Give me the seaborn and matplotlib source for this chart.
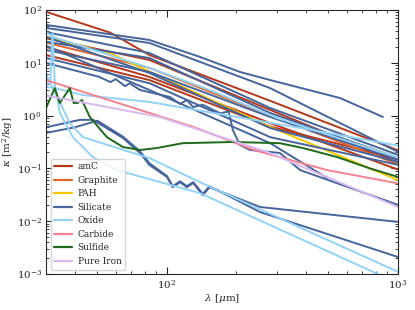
import matplotlib
matplotlib.use("Agg")
import matplotlib.pyplot as plt
import pandas as pd
import seaborn as sns

# Opacity curves: (wavelength [um], kappa [m^2/kg])
amc_lines = [
    ([30, 57, 84, 280, 1000], [92, 37, 14, 1.9, 0.22]),
    ([30, 84, 280, 1000], [29, 11.3, 1.28, 0.13]),
    ([30, 84, 280, 1000], [20, 5.4, 0.72, 0.095]),
    ([30, 84, 280, 1000], [14, 4.7, 0.62, 0.15]),
]
graphite_lines = [
    ([30, 84, 280, 1000], [24, 8.0, 1.0, 0.12]),
]
pah_lines = [
    ([30, 57, 84, 280, 1000], [31, 15, 6.8, 0.61, 0.06]),
]
silicate_lines = [
    ([30, 84, 139, 207, 280, 561, 861], [52, 27, 12.9, 6.7, 4.7, 2.15, 0.94]),
    ([30, 84, 280, 1000], [45.6, 23.7, 3.3, 0.205]),
    ([30, 84, 280, 1000], [38, 15.3, 1.39, 0.18]),
    ([30, 84, 280, 1000], [25, 12.3, 1.12, 0.158]),
    ([30, 84, 280, 1000], [17.5, 6.7, 0.94, 0.145]),
    ([30, 84, 280, 1000], [31, 6.4, 0.58, 0.133]),
    ([30, 84, 280, 1000], [12.3, 4.1, 0.39, 0.117]),
    ([30, 84, 280, 493], [21, 3.05, 0.30, 0.066]),
    ([30, 51, 57, 60, 66, 69, 76.5, 103, 114, 122, 130, 143, 170, 185, 193, 207, 229, 308, 377, 1000],
     [9.9, 5.4, 4.3, 4.9, 3.6, 4.1, 3.05, 2.25, 1.66, 1.97, 1.45, 1.6, 1.1, 1.2, 0.53, 0.277, 0.223, 0.196, 0.093, 0.0204]),
    ([30, 42, 47.9, 64.5, 76.5, 84, 100, 106, 114, 122, 130, 143, 153, 253, 1000],
     [0.6, 0.83, 0.83, 0.377, 0.196, 0.116, 0.069, 0.044, 0.055, 0.044, 0.053, 0.031, 0.044, 0.0186, 0.0097]),
    ([30, 40, 50, 64.5, 76.5, 84, 100, 106, 114, 122, 130, 143, 153, 253, 1000],
     [0.47, 0.6, 0.8, 0.4, 0.21, 0.125, 0.072, 0.046, 0.057, 0.046, 0.055, 0.033, 0.046, 0.0149, 0.0021]),
]
oxide_lines = [
    ([30, 32, 84, 153, 300, 1000], [38, 31, 8.0, 3.05, 0.9, 0.16]),
    ([30, 31.3, 32.0, 32.8, 43.3, 84, 201, 428, 1000], [3.8, 4.5, 36, 3.3, 2.45, 1.81, 0.94, 0.53, 0.27]),
    ([30, 34, 38, 43.3, 84, 139, 1000], [6.0, 2.0, 0.72, 0.39, 0.157, 0.055, 0.0011]),
    ([30, 33, 34.4, 39.2, 47.8, 60.7, 139, 1000], [3.5, 3.3, 1.12, 0.39, 0.164, 0.093, 0.034, 0.00067]),
]
carbide_lines = [
    ([30, 130, 240, 493, 1000], [4.7, 0.61, 0.22, 0.093, 0.052]),
]
sulfide_lines = [
    ([30, 32.7, 34.4, 38, 39.5, 41.2, 42.9, 46.4, 55, 64.5, 76.5, 90.5, 117, 193, 308, 388, 545, 756, 1000],
     [1.39, 3.3, 1.73, 3.3, 1.73, 1.73, 1.97, 0.94, 0.39, 0.254, 0.223, 0.243, 0.30, 0.316, 0.30, 0.243, 0.164, 0.10, 0.069]),
]
iron_lines = [
    ([30, 93, 271, 1000], [2.4, 0.94, 0.205, 0.0186]),
]

materials = ["amC", "Graphite", "PAH", "Silicate", "Oxide", "Carbide", "Sulfide", "Pure Iron"]
colors = ["#b5381c", "#e0662e", "#f7c600", "#46659c", "#93d2f7", "#f6818f", "#1d6a1a", "#d9b8f2"]

groups = [amc_lines, graphite_lines, pah_lines, silicate_lines, oxide_lines,
          carbide_lines, sulfide_lines, iron_lines]

rows = []
for name, lines in zip(materials, groups):
    for i, (lam, kap) in enumerate(lines):
        for x, y in zip(lam, kap):
            rows.append({"material": name, "line": f"{name}_{i}", "lam": x, "kappa": y})
df = pd.DataFrame(rows)

sns.set_style("ticks", {"xtick.direction": "in", "ytick.direction": "in"})
plt.rcParams["font.family"] = ["DejaVu Serif"]
plt.rcParams["mathtext.fontset"] = "dejavuserif"
plt.rcParams["axes.unicode_minus"] = False

fig, ax = plt.subplots(figsize=(4.15, 3.1), dpi=100)
fig.subplots_adjust(left=0.111, right=0.959, bottom=0.116, top=0.968)

sns.lineplot(data=df, x="lam", y="kappa", hue="material", units="line",
             estimator=None, sort=False, hue_order=materials,
             palette=dict(zip(materials, colors)), linewidth=1.4, ax=ax)

ax.set_xscale("log")
ax.set_yscale("log")
ax.set_xlim(30, 1000)
ax.set_ylim(1e-3, 1e2)
ax.set_xlabel(r"$\lambda$ [$\mu$m]", fontsize=7.5, labelpad=1)
ax.set_ylabel(r"$\kappa$ [m$^2$/kg]", fontsize=7.5, labelpad=1)
ax.tick_params(which="both", direction="in", top=True, right=True, labelsize=7.5)
ax.tick_params(which="major", length=5, width=0.8, pad=3)
ax.tick_params(which="minor", length=2.5, width=0.6)

leg = ax.legend(loc="lower left", fontsize=6.5, frameon=True, handlelength=2,
                handletextpad=0.6, borderpad=0.4, labelspacing=0.5)
leg.get_frame().set_edgecolor("#cccccc")
for line in leg.get_lines():
    line.set_linewidth(1.6)

fig.savefig("out.png", dpi=100)
